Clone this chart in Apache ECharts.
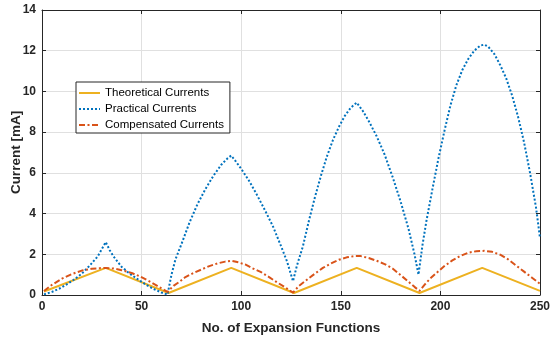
<!DOCTYPE html>
<html>
<head>
<meta charset="utf-8">
<script src="https://cdn.jsdelivr.net/npm/echarts@6/dist/echarts.min.js"></script>
<style>
  html, body { margin: 0; padding: 0; background: #fff; }
  #chart { width: 550px; height: 337px; }
</style>
</head>
<body>
<div id="chart"></div>
<script>
// values: [expansion functions, current mA]
const theoretical = [
    [1, 0.17], [32, 1.33], [63.5, 0.1], [95, 1.33], [126.5, 0.1],
    [158, 1.33], [189.5, 0.1], [221, 1.33], [250, 0.2]
];

const practical = [
    [1, 0.03], [5, 0.15], [9, 0.33], [13, 0.56], [16, 0.75], [20, 1.05], [24, 1.45],
    [28, 1.9], [32, 2.6], [34, 2.2], [36, 1.88], [40, 1.38], [44, 1.05], [48, 0.78],
    [52, 0.52], [56, 0.3], [60, 0.12], [63, 0.02],
    [65, 1.0], [67, 1.75], [70, 2.5], [74, 3.55], [78, 4.45], [82, 5.2], [86, 5.85],
    [90, 6.4], [93, 6.7], [95, 6.85], [97, 6.6], [100, 6.2], [104, 5.6], [108, 4.9],
    [112, 4.15], [116, 3.36], [120, 2.4], [123, 1.65], [126, 0.68],
    [128, 1.45], [131, 2.4], [134, 3.65], [137, 4.8], [140, 5.85], [143, 6.8],
    [146, 7.6], [149, 8.25], [152, 8.8], [155, 9.2], [158, 9.45], [161, 9.05],
    [164, 8.55], [168, 7.8], [172, 6.9], [176, 5.8], [180, 4.6], [184, 3.25],
    [187, 2.0], [189, 1.0],
    [191, 2.45], [193, 3.65], [196, 5.2], [199, 6.7], [202, 8.05], [205, 9.3],
    [208, 10.3], [211, 11.05], [214, 11.6], [217, 12.0], [220, 12.25], [222, 12.3],
    [224, 12.2], [227, 11.85], [230, 11.3], [233, 10.65], [236, 9.8], [239, 8.75],
    [242, 7.5], [245, 6.0], [248, 4.3], [250, 2.8]
];

const compensated = [
    [1, 0.2], [5, 0.5], [10, 0.8], [15, 1.03], [20, 1.2], [25, 1.29], [29, 1.32],
    [32, 1.33], [36, 1.3], [40, 1.22], [45, 1.08], [49, 0.92], [53, 0.72], [57, 0.5],
    [60, 0.32], [63, 0.15],
    [66, 0.45], [69, 0.65], [72, 0.88], [76, 1.08], [80, 1.25], [84, 1.42], [88, 1.55],
    [92, 1.64], [95, 1.68], [98, 1.62], [102, 1.5], [106, 1.3], [110, 1.12],
    [114, 0.88], [118, 0.62], [122, 0.38], [126, 0.12],
    [129, 0.45], [133, 0.75], [137, 1.05], [141, 1.33], [145, 1.55], [149, 1.73],
    [153, 1.85], [157, 1.91], [160, 1.91], [164, 1.82], [168, 1.68], [172, 1.52],
    [176, 1.3], [180, 0.98], [184, 0.65], [187, 0.4], [189.5, 0.2],
    [192, 0.5], [195, 0.82], [198, 1.08], [202, 1.42], [206, 1.7], [210, 1.92],
    [214, 2.08], [218, 2.15], [222, 2.17], [226, 2.12], [230, 1.98], [234, 1.75],
    [238, 1.45], [242, 1.15], [246, 0.85], [250, 0.55]
];

const xTicks = [0, 250, 50];   // min, max, step
const yTicks = [0, 14, 2];

const font = 'Liberation Sans, Arial, Helvetica, sans-serif';
const ink = '#262626';

let dom = document.getElementById('chart');
let myChart = echarts.init(dom, null, { renderer: 'canvas' });

// box axes like matlab: ticks inside on all four sides
function frameAxis(pos, t) {
    return {
        type: 'value',
        position: pos,
        min: t[0], max: t[1], interval: t[2],
        axisLine: { show: true, onZero: false, lineStyle: { color: ink, width: 1 } },
        axisTick: { show: true, inside: true, length: 4, lineStyle: { color: ink } },
        axisLabel: { show: false },
        splitLine: { show: false }
    };
}

let option = {
    animation: false,
    backgroundColor: '#fff',
    grid: { left: 42, right: 10, top: 10, bottom: 42, containLabel: false, outerBoundsMode: 'none' },
    legend: {
        orient: 'vertical',
        left: 76,
        top: 82,
        padding: [5, 6, 2, 2],
        itemGap: 4,
        itemWidth: 21,
        itemHeight: 12,
        backgroundColor: '#fff',
        borderColor: ink,
        borderWidth: 1,
        borderRadius: 0,
        itemStyle: { opacity: 0 },
        textStyle: { fontFamily: font, fontSize: 11.5, color: '#000' },
        data: ['Theoretical Currents', 'Practical Currents', 'Compensated Currents']
    },
    xAxis: [
        {
            type: 'value',
            position: 'bottom',
            min: xTicks[0], max: xTicks[1], interval: xTicks[2],
            name: 'No. of Expansion Functions',
            nameLocation: 'middle',
            nameGap: 26,
            nameMoveOverlap: false,
            nameTextStyle: { fontFamily: font, fontSize: 13.5, fontWeight: 'bold', color: ink },
            axisLine: { show: true, onZero: false, lineStyle: { color: ink, width: 1 } },
            axisTick: { show: true, inside: true, length: 4, lineStyle: { color: ink } },
            axisLabel: { fontFamily: font, fontSize: 12, fontWeight: 'bold', color: ink, margin: 6 },
            splitLine: { show: true, lineStyle: { color: '#e0e0e0', width: 1 } }
        },
        frameAxis('top', xTicks)
    ],
    yAxis: [
        {
            type: 'value',
            position: 'left',
            min: yTicks[0], max: yTicks[1], interval: yTicks[2],
            name: 'Current [mA]',
            nameLocation: 'middle',
            nameGap: 19,
            nameMoveOverlap: false,
            nameTextStyle: { fontFamily: font, fontSize: 13.5, fontWeight: 'bold', color: ink },
            axisLine: { show: true, onZero: false, lineStyle: { color: ink, width: 1 } },
            axisTick: { show: true, inside: true, length: 4, lineStyle: { color: ink } },
            axisLabel: { fontFamily: font, fontSize: 12, fontWeight: 'bold', color: ink, margin: 6 },
            splitLine: { show: true, lineStyle: { color: '#e0e0e0', width: 1 } }
        },
        frameAxis('right', yTicks)
    ],
    series: [
        {
            name: 'Theoretical Currents',
            type: 'line',
            data: theoretical,
            symbol: 'none',
            color: '#EDB120',
            lineStyle: { color: '#EDB120', width: 2 }
        },
        {
            name: 'Practical Currents',
            type: 'line',
            data: practical,
            symbol: 'none',
            color: '#0072BD',
            lineStyle: { color: '#0072BD', width: 2, type: [2, 2] }
        },
        {
            name: 'Compensated Currents',
            type: 'line',
            data: compensated,
            symbol: 'none',
            color: '#D95319',
            lineStyle: { color: '#D95319', width: 2, type: [6, 2.5, 2, 2.5] }
        }
    ]
};

myChart.setOption(option);
</script>
</body>
</html>
